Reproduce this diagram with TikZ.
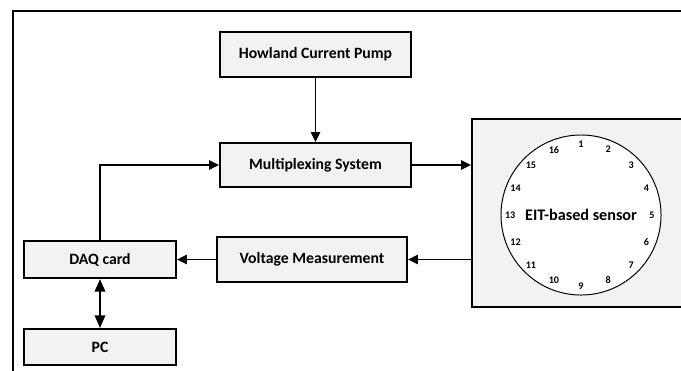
\documentclass[tikz,border=0pt]{standalone}
\usepackage{fontspec}
\setmainfont{Carlito}
\usetikzlibrary{arrows.meta,positioning,shadows}
\definecolor{boxgray}{RGB}{242,242,242}
\definecolor{shadeblue}{RGB}{200,215,235}

\begin{document}
\begin{tikzpicture}[x=0.025cm, y=-0.025cm,
    blockbox/.style={draw=black, fill=boxgray, line width=1.5pt, align=center,
        drop shadow={shadow xshift=0.8pt, shadow yshift=-0.8pt, fill=shadeblue, opacity=0.8},
        font=\bfseries\fontsize{11.2}{13}\selectfont},
    link/.style={line width=1.4pt, -{Triangle[length=7pt,width=6.5pt]}},
    elec/.style={font=\bfseries\fontsize{7.2}{8}\selectfont, inner sep=0pt}]
        \useasboundingbox (0,0) rectangle (681,370);
        \clip (0,0) rectangle (681,370);
        \fill[white] (-5,-5) rectangle (690,380);

        % Frame
        \draw[line width=1.4pt] (13,400) -- (13,11) -- (800,11);

        % Blocks
        \node[blockbox, minimum width=4.775cm, minimum height=1.125cm] (howland) at (315.5,54.5) {Howland Current Pump};
        \node[blockbox, minimum width=4.775cm, minimum height=1.1cm] (mux) at (315.5,165) {Multiplexing System};
        \node[blockbox, minimum width=4.75cm, minimum height=1.125cm] (volt) at (312,259.5) {Voltage Measurement};
        \node[blockbox, minimum width=3.8cm, minimum height=0.925cm] (daq) at (100,259.5) {DAQ card};
        \node[blockbox, minimum width=3.8cm, minimum height=0.9cm] (pc) at (100,347) {PC};

        % Sensor
        \node[blockbox, minimum width=10cm, minimum height=4.7cm, anchor=west] (sensor) at (471,213) {};
        \node[draw=black, fill=white, circle, line width=0.7pt, minimum size=4cm, inner sep=0pt,
              font=\bfseries\fontsize{11.5}{13}\selectfont] (ring) at (581,215) {EIT-based sensor};
        \foreach \k in {1,...,16}
            \node[elec] (e\k) at ([shift={({90-(\k-1)*22.5}:1.77cm)}]ring.center) {\k};

        % Connections
        \draw[link] (howland) -- (mux);
        \draw[link] (daq.north) |- (mux.west);
        \draw[link] (mux.east) -- (mux.east -| sensor.west);
        \draw[link] (volt.east -| sensor.west) -- (volt.east);
        \draw[link] (volt.west) -- (daq.east);
        \draw[line width=1.4pt, {Triangle[length=9pt,width=7.5pt]}-{Triangle[length=9pt,width=7.5pt]}] (daq) -- (pc);

    \end{tikzpicture}
\end{document}
